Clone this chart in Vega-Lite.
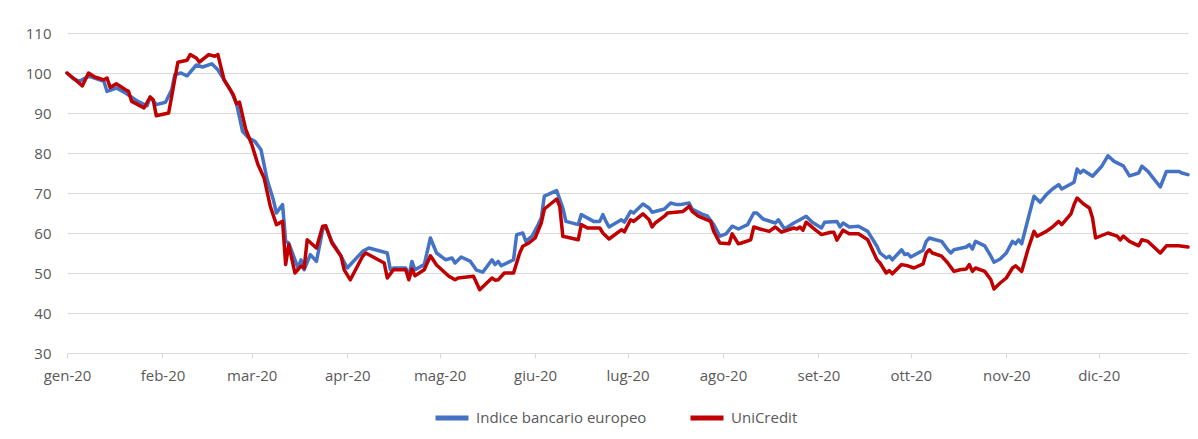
{
  "$schema": "https://vega.github.io/schema/vega-lite/v6.json",
  "width": 1121,
  "height": 320,
  "autosize": "none",
  "padding": {"left": 67, "top": 33, "right": 10, "bottom": 86},
  "background": "white",
  "config": {
    "font": "Open Sans",
    "view": {"stroke": null}
  },
  "datasets": {
    "idx": [
      {"d":"2020-01-01","v":100},{"d":"2020-01-03","v":98.6},{"d":"2020-01-05","v":97.9},{"d":"2020-01-08","v":99.2},
      {"d":"2020-01-13","v":97.9},{"d":"2020-01-14","v":95.4},{"d":"2020-01-17","v":96.25},{"d":"2020-01-20","v":95},
      {"d":"2020-01-24","v":92.9},{"d":"2020-01-27","v":91.8},{"d":"2020-01-28","v":94},{"d":"2020-01-30","v":92.1},
      {"d":"2020-02-02","v":92.7},{"d":"2020-02-04","v":95.8},{"d":"2020-02-05","v":99.6},{"d":"2020-02-07","v":100},
      {"d":"2020-02-09","v":99.3},{"d":"2020-02-12","v":102},{"d":"2020-02-14","v":101.5},{"d":"2020-02-17","v":102.3},
      {"d":"2020-02-19","v":100.8},{"d":"2020-02-23","v":95.8},{"d":"2020-02-25","v":92.5},{"d":"2020-02-27","v":85.4},
      {"d":"2020-02-29","v":83.75},{"d":"2020-03-02","v":82.9},{"d":"2020-03-04","v":80.8},{"d":"2020-03-06","v":73.3},
      {"d":"2020-03-08","v":68.3},{"d":"2020-03-09","v":65},{"d":"2020-03-11","v":67.1},{"d":"2020-03-12","v":57.9},
      {"d":"2020-03-13","v":57.5},{"d":"2020-03-16","v":51.25},{"d":"2020-03-17","v":53.3},{"d":"2020-03-18","v":50.8},
      {"d":"2020-03-20","v":54.6},{"d":"2020-03-22","v":52.9},{"d":"2020-03-24","v":60.8},{"d":"2020-03-25","v":61.7},
      {"d":"2020-03-27","v":57.9},{"d":"2020-03-30","v":54.2},{"d":"2020-04-01","v":51.25},{"d":"2020-04-06","v":55.4},
      {"d":"2020-04-08","v":56.25},{"d":"2020-04-14","v":55},{"d":"2020-04-15","v":50.8},{"d":"2020-04-16","v":51.25},
      {"d":"2020-04-20","v":51.25},{"d":"2020-04-21","v":49.2},{"d":"2020-04-22","v":52.9},{"d":"2020-04-23","v":50.8},
      {"d":"2020-04-26","v":52.1},{"d":"2020-04-28","v":58.75},{"d":"2020-04-30","v":55},{"d":"2020-05-03","v":53.3},
      {"d":"2020-05-05","v":53.75},{"d":"2020-05-06","v":52.5},{"d":"2020-05-08","v":54},{"d":"2020-05-11","v":52.9},
      {"d":"2020-05-13","v":50.7},{"d":"2020-05-15","v":50.2},{"d":"2020-05-18","v":53.3},{"d":"2020-05-19","v":52.1},
      {"d":"2020-05-20","v":52.9},{"d":"2020-05-21","v":51.8},{"d":"2020-05-25","v":53.3},{"d":"2020-05-26","v":59.6},
      {"d":"2020-05-28","v":60},{"d":"2020-05-29","v":57.9},{"d":"2020-05-31","v":59.2},{"d":"2020-06-02","v":62.1},
      {"d":"2020-06-03","v":63.75},{"d":"2020-06-04","v":69.2},{"d":"2020-06-08","v":70.6},{"d":"2020-06-10","v":66.25},
      {"d":"2020-06-11","v":62.9},{"d":"2020-06-15","v":62.1},{"d":"2020-06-16","v":64.6},{"d":"2020-06-20","v":62.9},
      {"d":"2020-06-22","v":62.9},{"d":"2020-06-23","v":64.6},{"d":"2020-06-24","v":62.9},{"d":"2020-06-25","v":61.5},
      {"d":"2020-06-29","v":63.3},{"d":"2020-06-30","v":62.7},{"d":"2020-07-02","v":65.4},{"d":"2020-07-03","v":65},
      {"d":"2020-07-06","v":67.25},{"d":"2020-07-08","v":66.25},{"d":"2020-07-09","v":65.2},{"d":"2020-07-13","v":66},
      {"d":"2020-07-15","v":67.5},{"d":"2020-07-17","v":67.1},{"d":"2020-07-18","v":67.1},{"d":"2020-07-21","v":67.5},
      {"d":"2020-07-22","v":66},{"d":"2020-07-25","v":64.8},{"d":"2020-07-27","v":64.2},{"d":"2020-07-29","v":62.1},
      {"d":"2020-07-31","v":59.2},{"d":"2020-08-02","v":59.8},{"d":"2020-08-04","v":61.7},{"d":"2020-08-06","v":61},
      {"d":"2020-08-09","v":62.1},{"d":"2020-08-11","v":65},{"d":"2020-08-12","v":65},{"d":"2020-08-14","v":63.5},
      {"d":"2020-08-18","v":62.5},{"d":"2020-08-19","v":63.3},{"d":"2020-08-21","v":61},{"d":"2020-08-24","v":62.5},
      {"d":"2020-08-26","v":63.3},{"d":"2020-08-28","v":64.2},{"d":"2020-08-30","v":62.7},{"d":"2020-09-02","v":61.25},
      {"d":"2020-09-03","v":62.7},{"d":"2020-09-07","v":62.9},{"d":"2020-09-08","v":61.5},{"d":"2020-09-09","v":62.5},
      {"d":"2020-09-11","v":61.5},{"d":"2020-09-14","v":61.7},{"d":"2020-09-17","v":60.4},{"d":"2020-09-20","v":56.7},
      {"d":"2020-09-21","v":55},{"d":"2020-09-23","v":53.75},{"d":"2020-09-24","v":54.2},{"d":"2020-09-25","v":53.3},
      {"d":"2020-09-28","v":55.8},{"d":"2020-09-29","v":54.6},{"d":"2020-09-30","v":54.8},{"d":"2020-10-01","v":54},
      {"d":"2020-10-05","v":55.7},{"d":"2020-10-06","v":57.9},{"d":"2020-10-07","v":58.75},{"d":"2020-10-09","v":58.3},
      {"d":"2020-10-11","v":57.9},{"d":"2020-10-13","v":55.8},{"d":"2020-10-14","v":55},{"d":"2020-10-15","v":55.8},
      {"d":"2020-10-19","v":56.5},{"d":"2020-10-20","v":57.1},{"d":"2020-10-21","v":56},{"d":"2020-10-22","v":57.9},
      {"d":"2020-10-25","v":56.8},{"d":"2020-10-27","v":54.2},{"d":"2020-10-28","v":52.7},{"d":"2020-10-30","v":53.5},
      {"d":"2020-11-01","v":55},{"d":"2020-11-03","v":57.9},{"d":"2020-11-04","v":57.3},{"d":"2020-11-05","v":58.3},
      {"d":"2020-11-06","v":57.3},{"d":"2020-11-08","v":63.3},{"d":"2020-11-10","v":69.2},{"d":"2020-11-12","v":67.7},
      {"d":"2020-11-14","v":69.6},{"d":"2020-11-16","v":71},{"d":"2020-11-18","v":72.1},{"d":"2020-11-19","v":71},
      {"d":"2020-11-23","v":72.7},{"d":"2020-11-24","v":76},{"d":"2020-11-25","v":75},{"d":"2020-11-26","v":75.7},
      {"d":"2020-11-29","v":74.2},{"d":"2020-12-02","v":76.7},{"d":"2020-12-04","v":79.3},{"d":"2020-12-06","v":77.9},
      {"d":"2020-12-09","v":76.8},{"d":"2020-12-11","v":74.3},{"d":"2020-12-14","v":75},{"d":"2020-12-15","v":76.7},
      {"d":"2020-12-17","v":75.4},{"d":"2020-12-21","v":71.5},{"d":"2020-12-23","v":75.4},{"d":"2020-12-27","v":75.4},
      {"d":"2020-12-28","v":75},{"d":"2020-12-30","v":74.6}
    ],
    "uc": [
      {"d":"2020-01-01","v":100},{"d":"2020-01-03","v":98.75},{"d":"2020-01-06","v":96.8},{"d":"2020-01-08","v":100},
      {"d":"2020-01-10","v":99},{"d":"2020-01-13","v":98.3},{"d":"2020-01-14","v":98.75},{"d":"2020-01-15","v":96.4},
      {"d":"2020-01-17","v":97.3},{"d":"2020-01-20","v":95.8},{"d":"2020-01-21","v":95.4},{"d":"2020-01-22","v":92.9},
      {"d":"2020-01-24","v":92.1},{"d":"2020-01-26","v":91.25},{"d":"2020-01-28","v":94},{"d":"2020-01-29","v":93.3},
      {"d":"2020-01-30","v":89.3},{"d":"2020-02-03","v":90},{"d":"2020-02-04","v":94.2},{"d":"2020-02-06","v":102.7},
      {"d":"2020-02-09","v":103.2},{"d":"2020-02-10","v":104.6},{"d":"2020-02-12","v":103.75},{"d":"2020-02-13","v":102.7},
      {"d":"2020-02-16","v":104.6},{"d":"2020-02-18","v":104.2},{"d":"2020-02-19","v":104.6},{"d":"2020-02-21","v":98.3},
      {"d":"2020-02-24","v":94.6},{"d":"2020-02-25","v":92.3},{"d":"2020-02-26","v":92.7},{"d":"2020-02-28","v":86},
      {"d":"2020-03-01","v":82.1},{"d":"2020-03-03","v":77.1},{"d":"2020-03-05","v":73.75},{"d":"2020-03-07","v":66.7},
      {"d":"2020-03-09","v":62.1},{"d":"2020-03-11","v":62.9},{"d":"2020-03-12","v":52.1},{"d":"2020-03-13","v":57.1},
      {"d":"2020-03-15","v":50},{"d":"2020-03-17","v":51.7},{"d":"2020-03-18","v":51.25},{"d":"2020-03-19","v":58.3},
      {"d":"2020-03-22","v":56.25},{"d":"2020-03-24","v":61.7},{"d":"2020-03-25","v":61.8},{"d":"2020-03-27","v":57.5},
      {"d":"2020-03-30","v":54.2},{"d":"2020-03-31","v":50.8},{"d":"2020-04-02","v":48.3},{"d":"2020-04-06","v":54.2},
      {"d":"2020-04-07","v":55},{"d":"2020-04-13","v":52.5},{"d":"2020-04-14","v":48.75},{"d":"2020-04-16","v":50.8},
      {"d":"2020-04-20","v":50.8},{"d":"2020-04-21","v":48.3},{"d":"2020-04-22","v":51},{"d":"2020-04-23","v":49.3},
      {"d":"2020-04-26","v":50.8},{"d":"2020-04-28","v":54.3},{"d":"2020-04-30","v":52},{"d":"2020-05-04","v":49.2},
      {"d":"2020-05-06","v":48.3},{"d":"2020-05-07","v":48.75},{"d":"2020-05-12","v":49.2},{"d":"2020-05-14","v":45.8},
      {"d":"2020-05-18","v":48.75},{"d":"2020-05-19","v":48.2},{"d":"2020-05-20","v":48.3},{"d":"2020-05-22","v":50},
      {"d":"2020-05-25","v":50},{"d":"2020-05-27","v":55},{"d":"2020-05-28","v":56.7},{"d":"2020-05-30","v":57.5},
      {"d":"2020-06-01","v":58.75},{"d":"2020-06-03","v":62.5},{"d":"2020-06-04","v":66},{"d":"2020-06-08","v":68.5},
      {"d":"2020-06-09","v":66.7},{"d":"2020-06-10","v":59.2},{"d":"2020-06-15","v":58.3},{"d":"2020-06-16","v":62.1},
      {"d":"2020-06-18","v":61.25},{"d":"2020-06-22","v":61.25},{"d":"2020-06-23","v":60},{"d":"2020-06-25","v":58.5},
      {"d":"2020-06-29","v":60.8},{"d":"2020-06-30","v":60.3},{"d":"2020-07-02","v":63.3},{"d":"2020-07-03","v":62.9},
      {"d":"2020-07-06","v":64.8},{"d":"2020-07-08","v":63.3},{"d":"2020-07-09","v":61.5},{"d":"2020-07-10","v":62.5},
      {"d":"2020-07-13","v":64.2},{"d":"2020-07-14","v":65},{"d":"2020-07-19","v":65.4},{"d":"2020-07-20","v":66},
      {"d":"2020-07-21","v":66.7},{"d":"2020-07-22","v":65.4},{"d":"2020-07-24","v":64.2},{"d":"2020-07-28","v":62.9},
      {"d":"2020-07-29","v":60.4},{"d":"2020-07-31","v":57.5},{"d":"2020-08-03","v":57.3},{"d":"2020-08-04","v":59.8},
      {"d":"2020-08-06","v":57.3},{"d":"2020-08-07","v":57.5},{"d":"2020-08-10","v":58.3},{"d":"2020-08-11","v":61.5},
      {"d":"2020-08-13","v":61},{"d":"2020-08-16","v":60.4},{"d":"2020-08-18","v":61.5},{"d":"2020-08-20","v":60.2},
      {"d":"2020-08-24","v":61.25},{"d":"2020-08-25","v":61},{"d":"2020-08-26","v":61.5},{"d":"2020-08-27","v":60.7},
      {"d":"2020-08-28","v":62.7},{"d":"2020-08-31","v":60.8},{"d":"2020-09-02","v":59.6},{"d":"2020-09-05","v":60.2},
      {"d":"2020-09-06","v":60.2},{"d":"2020-09-07","v":58.2},{"d":"2020-09-09","v":60.7},{"d":"2020-09-11","v":59.8},
      {"d":"2020-09-14","v":59.8},{"d":"2020-09-17","v":58.3},{"d":"2020-09-20","v":53.3},{"d":"2020-09-21","v":52.5},
      {"d":"2020-09-23","v":50},{"d":"2020-09-24","v":50.6},{"d":"2020-09-25","v":49.8},{"d":"2020-09-28","v":52.1},
      {"d":"2020-09-30","v":51.8},{"d":"2020-10-02","v":51.25},{"d":"2020-10-05","v":52.3},{"d":"2020-10-06","v":55},
      {"d":"2020-10-07","v":55.8},{"d":"2020-10-08","v":55},{"d":"2020-10-11","v":54.2},{"d":"2020-10-13","v":52.5},
      {"d":"2020-10-15","v":50.4},{"d":"2020-10-17","v":50.8},{"d":"2020-10-19","v":51},{"d":"2020-10-20","v":52.1},
      {"d":"2020-10-21","v":50.4},{"d":"2020-10-22","v":51.25},{"d":"2020-10-25","v":50.4},{"d":"2020-10-27","v":48.3},
      {"d":"2020-10-28","v":46},{"d":"2020-10-30","v":47.5},{"d":"2020-11-01","v":48.75},{"d":"2020-11-03","v":51.25},
      {"d":"2020-11-04","v":51.8},{"d":"2020-11-06","v":50.4},{"d":"2020-11-08","v":55.8},{"d":"2020-11-10","v":60.4},
      {"d":"2020-11-11","v":59.2},{"d":"2020-11-14","v":60.4},{"d":"2020-11-16","v":61.5},{"d":"2020-11-18","v":62.9},
      {"d":"2020-11-19","v":62.1},{"d":"2020-11-22","v":64.8},{"d":"2020-11-23","v":67.1},{"d":"2020-11-24","v":68.75},
      {"d":"2020-11-26","v":67.3},{"d":"2020-11-28","v":66.25},{"d":"2020-11-29","v":63.75},{"d":"2020-11-30","v":58.75},
      {"d":"2020-12-04","v":60},{"d":"2020-12-07","v":59.2},{"d":"2020-12-08","v":58.3},{"d":"2020-12-09","v":59.2},
      {"d":"2020-12-11","v":57.9},{"d":"2020-12-14","v":56.8},{"d":"2020-12-15","v":58.3},{"d":"2020-12-17","v":57.9},
      {"d":"2020-12-21","v":55},{"d":"2020-12-23","v":56.8},{"d":"2020-12-27","v":56.8},{"d":"2020-12-30","v":56.5}
    ]
  },
  "encoding": {
    "x": {
      "field": "d",
      "type": "temporal",
      "scale": {
        "type": "utc",
        "domain": [{"year": 2020, "month": 1, "date": 1, "utc": true}, {"year": 2020, "month": 12, "date": 30, "utc": true}]
      },
      "axis": {
        "title": null,
        "grid": false,
        "values": [
          {"year": 2020, "month": 1, "date": 1, "utc": true},
          {"year": 2020, "month": 2, "date": 1, "utc": true},
          {"year": 2020, "month": 3, "date": 1, "utc": true},
          {"year": 2020, "month": 4, "date": 1, "utc": true},
          {"year": 2020, "month": 5, "date": 1, "utc": true},
          {"year": 2020, "month": 6, "date": 1, "utc": true},
          {"year": 2020, "month": 7, "date": 1, "utc": true},
          {"year": 2020, "month": 8, "date": 1, "utc": true},
          {"year": 2020, "month": 9, "date": 1, "utc": true},
          {"year": 2020, "month": 10, "date": 1, "utc": true},
          {"year": 2020, "month": 11, "date": 1, "utc": true},
          {"year": 2020, "month": 12, "date": 1, "utc": true}
        ],
        "labelExpr": "['gen','feb','mar','apr','mag','giu','lug','ago','set','ott','nov','dic'][utcmonth(datum.value)] + '-20'",
        "domainColor": "#D9D9D9",
        "domainWidth": 1,
        "tickColor": "#D9D9D9",
        "tickSize": 5,
        "labelPadding": 10,
        "labelFontSize": 15,
        "labelColor": "#595959",
        "labelFont": "Open Sans",
        "labelFlush": false,
        "labelOverlap": false
      }
    },
    "y": {
      "field": "v",
      "type": "quantitative",
      "scale": {"domain": [30, 110], "nice": false, "zero": false},
      "axis": {
        "title": null,
        "values": [30, 40, 50, 60, 70, 80, 90, 100, 110],
        "grid": true,
        "gridColor": "#D9D9D9",
        "gridWidth": 1,
        "domain": false,
        "ticks": false,
        "labelPadding": 16,
        "labelFontSize": 15,
        "labelColor": "#595959",
        "labelFont": "Open Sans"
      }
    }
  },
  "layer": [
    {
      "data": {"name": "idx"},
      "mark": {"type": "line", "strokeWidth": 3.5, "strokeJoin": "round", "strokeCap": "round"},
      "encoding": {
        "color": {
          "datum": "Indice bancario europeo",
          "type": "nominal",
          "scale": {"domain": ["Indice bancario europeo", "UniCredit"], "range": ["#4472C4", "#C00000"]},
          "legend": {
            "title": null,
            "orient": "none",
            "legendX": 366,
            "legendY": 366,
            "direction": "horizontal",
            "symbolType": "stroke",
            "symbolSize": 1089,
            "symbolStrokeWidth": 5,
            "labelFontSize": 15,
            "labelColor": "#595959",
            "labelFont": "Open Sans",
            "labelLimit": 400,
            "labelOffset": 5,
            "columnPadding": 33
          }
        }
      }
    },
    {
      "data": {"name": "uc"},
      "mark": {"type": "line", "strokeWidth": 3.5, "strokeJoin": "round", "strokeCap": "round"},
      "encoding": {
        "color": {"datum": "UniCredit", "type": "nominal"}
      }
    }
  ]
}
